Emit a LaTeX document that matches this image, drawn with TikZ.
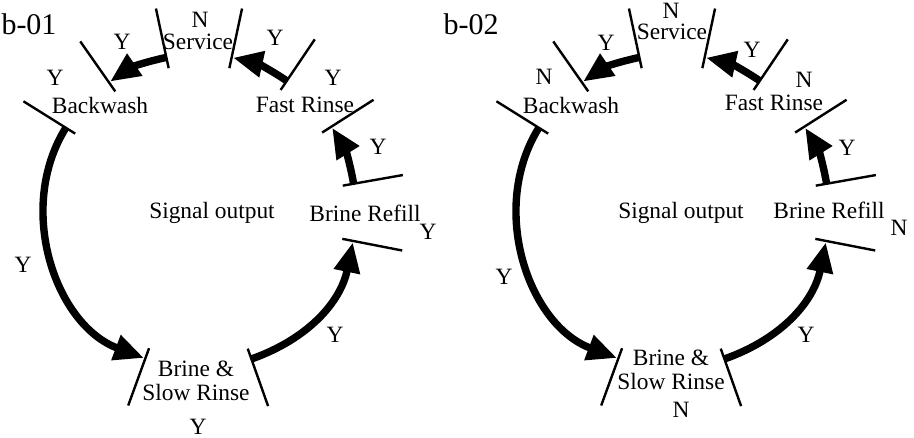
\documentclass[tikz,border=0pt]{standalone}
\usepackage{fontspec}
\setmainfont{Liberation Serif}
\usetikzlibrary{calc}
\usetikzlibrary{arrows.meta}

\begin{document}
\begin{tikzpicture}[x=0.5pt,y=0.5pt]

\tikzset{
  stagebar/.style={line width=1.2pt},
  flowarrow/.style={line width=3.7pt,-{Triangle[length=15pt,width=12.5pt]}},
  stagetext/.style={font=\fontsize{11.7}{12}\selectfont,align=center,inner sep=0pt},
  yesno/.style={font=\fontsize{11.7}{12}\selectfont,inner sep=0pt},
  cycletitle/.style={font=\fontsize{15}{16}\selectfont,inner sep=0pt}
}

\useasboundingbox (0,0) rectangle (914,438);

\def\ringrad{157}
\def\barin{146}
\def\barout{207}

% DRAW THE TWO CYCLES
\foreach \k/\cx in {1/199,2/672}{
  \coordinate (centre\k) at (\cx,227);

  % DRAW THE STAGE BARS
  \foreach \ang in {102,125,148,250,289.5,349,10,32.5,56,78}
    \draw[stagebar] ($(centre\k)+(\ang:\barin)$) -- ($(centre\k)+(\ang:\barout)$);

  % ENDS OF THE ARROWS
  \coordinate (srvOut\k) at ($(centre\k)+(102:\ringrad)$);
  \coordinate (bwIn\k)   at ($(centre\k)+(124.5:\ringrad)$);
  \coordinate (bwOut\k)  at ($(centre\k)+(148:\ringrad)$);
  \coordinate (brIn\k)   at ($(centre\k)+(249.5:\ringrad)$);
  \coordinate (brOut\k)  at ($(centre\k)+(289.5:\ringrad)$);
  \coordinate (rfIn\k)   at ($(centre\k)+(348.5:\ringrad)$);
  \coordinate (rfOut\k)  at ($(centre\k)+(10:\ringrad)$);
  \coordinate (frIn\k)   at ($(centre\k)+(32:\ringrad)$);
  \coordinate (frOut\k)  at ($(centre\k)+(56:\ringrad)$);
  \coordinate (srvIn\k)  at ($(centre\k)+(77.5:\ringrad)$);

  % DRAW THE ARROWS
  \draw[flowarrow] (srvOut\k) to[out=192,in=34.5] (bwIn\k);
  \draw[flowarrow] (bwOut\k) to[out=238,in=159.5] (brIn\k);
  \draw[flowarrow] (brOut\k) to[out=19.5,in=258.5] (rfIn\k);
  \draw[flowarrow] (rfOut\k) to[out=100,in=-58] (frIn\k);
  \draw[flowarrow] (frOut\k) to[out=146,in=-12.5] (srvIn\k);
}

% LABELS OF b-01
\node[cycletitle] (title1) at (29,414) {b-01};
\node[stagetext] (service1) at (198,396) {Service};
\node[yesno] (service1yn) at (200,418) {N};
\node[stagetext] (backwash1) at (100,332) {Backwash};
\node[yesno] (backwash1yn) at (55,360) {Y};
\node[stagetext] (fastrinse1) at (305,333) {Fast Rinse};
\node[yesno] (fastrinse1yn) at (333,360) {Y};
\node[stagetext] (refill1) at (365,225) {Brine Refill};
\node[yesno] (refill1yn) at (428,206) {Y};
\node[stagetext] (brine1) at (196,57) {Brine \&\\Slow Rinse};
\node[yesno] (brine1yn) at (198,11) {Y};
\node[stagetext] (signal1) at (212,225) {Signal output};
\node[yesno] (srvbw1) at (122,396) {Y};
\node[yesno] (bwbr1) at (23,173) {Y};
\node[yesno] (brrf1) at (335,103) {Y};
\node[yesno] (rffr1) at (378,291) {Y};
\node[yesno] (frsrv1) at (275,400) {Y};

% LABELS OF b-02
\node[cycletitle] (title2) at (471,414) {b-02};
\node[stagetext] (service2) at (672,406) {Service};
\node[yesno] (service2yn) at (671,427) {N};
\node[stagetext] (backwash2) at (571,332) {Backwash};
\node[yesno] (backwash2yn) at (544,361) {N};
\node[stagetext] (fastrinse2) at (774,335) {Fast Rinse};
\node[yesno] (fastrinse2yn) at (804,358) {N};
\node[stagetext] (refill2) at (829,228) {Brine Refill};
\node[yesno] (refill2yn) at (899,210) {N};
\node[stagetext] (brine2) at (671,68) {Brine \&\\Slow Rinse};
\node[yesno] (brine2yn) at (681,28) {N};
\node[stagetext] (signal2) at (681,225) {Signal output};
\node[yesno] (srvbw2) at (606,395) {Y};
\node[yesno] (bwbr2) at (504,161) {Y};
\node[yesno] (brrf2) at (806,103) {Y};
\node[yesno] (rffr2) at (847,290) {Y};
\node[yesno] (frsrv2) at (752,388) {Y};

\end{tikzpicture}
\end{document}
